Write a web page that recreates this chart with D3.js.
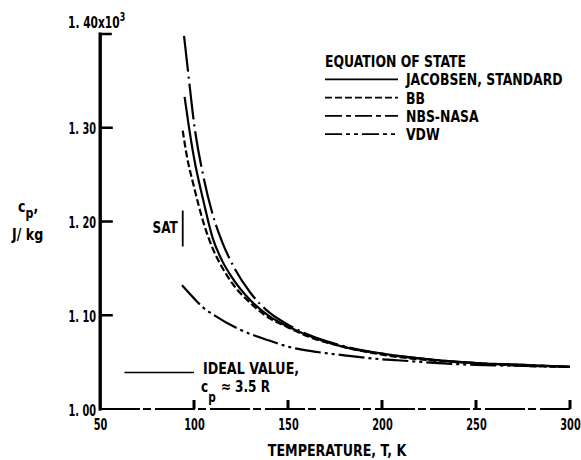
<!DOCTYPE html>
<html>
<head>
<meta charset="utf-8">
<script src="https://cdn.jsdelivr.net/npm/d3@7"></script>
<style>
  html, body { margin: 0; padding: 0; background: #fff; }
  svg { display: block; }
  text { font-family: 'DejaVu Sans Condensed', 'DejaVu Sans', sans-serif; font-weight: bold; fill: #000; font-size: 16px; }
</style>
</head>
<body>
<svg id="chart" width="581" height="460"></svg>
<script>
// Specific heat at constant pressure vs temperature, several equations of state
const temperatureTicks = [50, 100, 150, 200, 250, 300];
const cpTicks = [1.00, 1.10, 1.20, 1.30, 1.40];
const cpTickLabels = ["1. 00", "1. 10", "1. 20", "1. 30"];

// [T (K), cp (10^3 J/kg K)]
const jacobsen = [[95,1.333],[97,1.305],[100,1.268],[105,1.222],[110,1.182],[115,1.158],[120,1.141],[130,1.116],[140,1.099],[150,1.088],[160,1.079],[180,1.066],[200,1.059],[225,1.053],[250,1.049],[275,1.047],[300,1.045]];
const bb = [[94,1.297],[96,1.272],[100,1.237],[105,1.199],[110,1.171],[115,1.151],[120,1.135],[130,1.113],[140,1.097],[150,1.087],[160,1.078],[180,1.066],[200,1.058],[225,1.052],[250,1.049],[275,1.046],[300,1.045]];
const nbsNasa = [[94.7,1.398],[97,1.357],[100,1.305],[105,1.248],[110,1.207],[115,1.178],[120,1.156],[130,1.124],[140,1.103],[150,1.090],[160,1.080],[180,1.067],[200,1.059],[225,1.053],[250,1.049],[275,1.047],[300,1.045]];
const vdw = [[93.6,1.132],[100,1.118],[105,1.108],[110,1.101],[123,1.086],[140,1.073],[151,1.066],[165,1.061],[181,1.057],[200,1.053],[208,1.052],[230,1.049],[250,1.047],[275,1.046],[300,1.045]];

const seriesNames = ["JACOBSEN, STANDARD", "BB", "NBS-NASA", "VDW"];
const seriesData = [jacobsen, bb, nbsNasa, vdw];
const seriesDash = [null, "7,3", "36,5,2,5", "26,4,3,4,3,4"];
const legendDash = [null, "7,3", "17,4,5,4", "17,4,4,4,4,4"];

const idealValue = 1.039;          // cp = 3.5 R
const idealRange = [63, 100];
const satTemperature = 94;

const svg = d3.select("#chart");
const x = d3.scaleLinear().domain([50, 300]).range([100, 570]);
const y = d3.scaleLinear().domain([1.00, 1.40]).range([409, 34]);

// narrow a text horizontally around its anchor point
function narrow(sel, s) {
  sel.each(function () {
    const t = d3.select(this);
    const tx = +t.attr("x") || 0;
    const ty = +t.attr("y") || 0;
    t.attr("x", 0).attr("y", 0)
     .attr("transform", `translate(${tx},${ty}) scale(${s},1)`);
  });
  return sel;
}

// curves
const line = d3.line().x(d => x(d[0])).y(d => y(d[1])).curve(d3.curveMonotoneX);
seriesData.forEach((data, i) => {
  svg.append("path").datum(data).attr("d", line)
    .attr("fill", "none").attr("stroke", "#000").attr("stroke-width", 2.2)
    .attr("stroke-dasharray", seriesDash[i]);
});

// tick labels through d3 axes (labels only)
const gy = svg.append("g").attr("transform", `translate(${x(50)},0)`)
  .call(d3.axisLeft(y).tickValues(cpTicks.slice(0, 4)).tickFormat((d, i) => cpTickLabels[i])
    .tickSize(0).tickPadding(4));
const gx = svg.append("g").attr("transform", `translate(0,${y(1.00)})`)
  .call(d3.axisBottom(x).tickValues(temperatureTicks).tickSize(0).tickPadding(9));
[gx, gy].forEach(g => {
  g.select("path.domain").remove();
  g.selectAll(".tick line").remove();
  g.selectAll("text").attr("fill", "#000").attr("font-size", null).attr("font-family", null);
});
gy.selectAll(".tick text").attr("dy", null).attr("y", 6);
narrow(gy.selectAll(".tick text"), 0.68);
gx.selectAll(".tick text").attr("dy", null).attr("y", 21);
narrow(gx.selectAll(".tick text"), 0.68);

// top y label with exponent
const topLab = svg.append("text").attr("x", 68).attr("y", 28);
topLab.append("tspan").text("1. 40x10");
topLab.append("tspan").attr("dy", -7).style("font-size", "12px").text("3");
narrow(topLab, 0.74);

// axis titles
narrow(svg.append("text").attr("x", 337).attr("y", 456).attr("text-anchor", "middle").text("TEMPERATURE, T, K"), 0.88);
const yl = svg.append("text").attr("x", 18).attr("y", 212);
yl.append("tspan").text("c");
yl.append("tspan").attr("dy", 6).style("font-size", "14px").text("p");
yl.append("tspan").attr("dy", -6).text(",");
narrow(yl, 0.88);
narrow(svg.append("text").attr("x", 12).attr("y", 240).text("J/ kg"), 0.88);

// saturation marker
svg.append("line").attr("x1", x(satTemperature)).attr("x2", x(satTemperature))
  .attr("y1", y(1.20) - 11).attr("y2", y(1.20) + 25).attr("stroke", "#000").attr("stroke-width", 1.8);
narrow(svg.append("text").attr("x", x(satTemperature) - 5).attr("y", 233).attr("text-anchor", "end").text("SAT"), 0.84);

// ideal gas value
svg.append("line").attr("x1", x(idealRange[0])).attr("x2", x(idealRange[1]))
  .attr("y1", y(idealValue)).attr("y2", y(idealValue)).attr("stroke", "#000").attr("stroke-width", 1.6);
narrow(svg.append("text").attr("x", 203).attr("y", 374).text("IDEAL VALUE,"), 0.88);
const il = svg.append("text").attr("x", 201).attr("y", 392);
il.append("tspan").text("c");
il.append("tspan").attr("dy", 10).style("font-size", "14px").text("p");
il.append("tspan").attr("dy", -10).attr("dx", 6).text("≈ 3.5 R");
narrow(il, 0.84);

// legend
const lg = svg.append("g");
narrow(lg.append("text").attr("x", 325).attr("y", 67).text("EQUATION OF STATE"), 0.865);
seriesNames.forEach((name, i) => {
  const ly = 79.3 + i * 18.3;
  lg.append("line").attr("x1", 325).attr("x2", 398).attr("y1", ly).attr("y2", ly)
    .attr("stroke", "#000").attr("stroke-width", 1.8).attr("stroke-dasharray", legendDash[i]);
  narrow(lg.append("text").attr("x", 406).attr("y", ly + 6).text(name), 0.865);
});

// axis frame, drawn last: left axis with inward ticks, bottom axis with upward ticks
const ax = x(50) + 0.5;
const leftAxis = d3.path();
leftAxis.moveTo(ax + 10, y(1.40));
leftAxis.lineTo(ax, y(1.40));
leftAxis.lineTo(ax, y(1.00));
cpTicks.slice(1, 4).forEach(v => { leftAxis.moveTo(ax, y(v)); leftAxis.lineTo(ax + 11, y(v)); });
svg.append("path").attr("class", "left-axis").attr("d", leftAxis.toString())
  .attr("fill", "none").attr("stroke", "#000").attr("stroke-width", 2.6)
  .attr("stroke-linecap", "square");

const frame = svg.append("g").attr("class", "frame").attr("fill", "#000");
frame.append("rect").attr("x", x(50) - 1.5).attr("y", y(1.40) - 1.5)
  .attr("width", 3).attr("height", y(1.00) - y(1.40) + 3);
frame.selectAll("rect.xt").data(temperatureTicks.slice(1)).join("rect").attr("class", "xt")
  .attr("x", d => x(d) - 1.5).attr("y", y(1.00) - 9).attr("width", 3).attr("height", 9);
frame.append("line").attr("x1", x(50)).attr("x2", x(300)).attr("y1", y(1.00)).attr("y2", y(1.00))
  .attr("stroke", "#000").attr("stroke-width", 2.2).attr("stroke-dasharray", "40,3,8,4");
</script>
</body>
</html>
